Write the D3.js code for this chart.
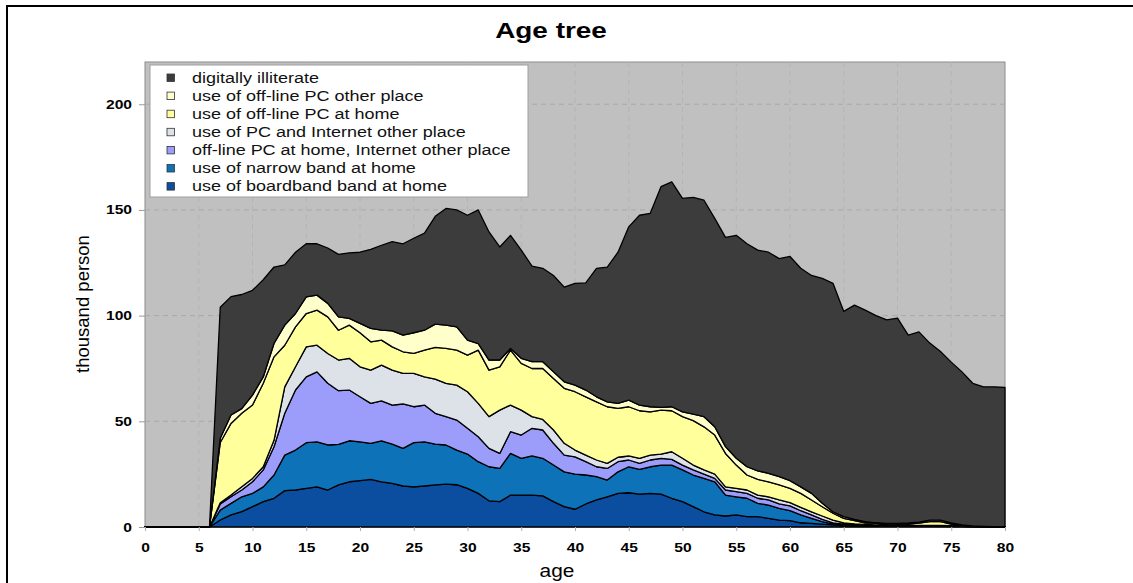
<!DOCTYPE html>
<html lang="en">
<head>
<meta charset="UTF-8">
<title>Age tree</title>
<script src="https://cdn.jsdelivr.net/npm/d3@7"></script>
<style>
  body { margin: 0; background: #fff; }
  svg { display: block; font-family: "Liberation Sans", Arial, sans-serif; }
</style>
</head>
<body>
<div id="chart"></div>
<script>
// ages 0..80, thousand persons per layer (bottom layer first)
var ages = [0,1,2,3,4,5,6,7,8,9,10,11,12,13,14,15,16,17,18,19,20,21,22,23,24,25,26,27,28,29,30,
  31,32,33,34,35,36,37,38,39,40,41,42,43,44,45,46,47,48,49,50,51,52,53,54,55,56,57,58,59,60,
  61,62,63,64,65,66,67,68,69,70,71,72,73,74,75,76,77,78,79,80];

var broadband = [0,0,0,0,0,0,0,
  3.3,5.7,7.3,9.6,12,13.6,17.2,17.5,18.3,19,
  17.5,19.9,21.4,21.9,22.5,21.4,20.6,19.4,19,19.4,
  19.9,20.3,20,18.3,15.9,12.4,12,15.1,15.1,15.1,
  14.7,12,9.6,8.4,10.9,12.8,14.3,15.9,16.2,15.6,
  15.9,15.6,13.6,12,9.6,7.2,5.7,5.2,5.7,4.9,
  4.9,4.1,3.3,3,2,1.7,1.4,1,0.5,0.4,
  0.3,0.3,0.3,0.3,0.3,0.3,0.3,0.3,0.2,0.2,
  0.1,0.1,0.1,0.1];
var narrowband = [0,0,0,0,0,0,0,
  4.7,5.5,7.0,6.3,7,11,16.8,18.9,21.6,21.3,
  21.3,19.2,19.4,18.4,17.1,19.4,18.6,17.8,20.9,20.9,
  19.3,18.5,16.4,16.2,15,16.1,15.7,19.7,17.4,18.5,
  17.8,17.3,16.5,16.6,13.7,11,7.9,10.2,12.3,11.7,
  12.6,13.7,15.7,15,15,15.8,15.7,9.9,8.6,8.7,
  6.3,6.3,5.5,4.7,3.7,2.4,1.1,0.4,0.5,0.3,
  0.2,0.2,0.1,0.1,0.1,0.1,0.1,0.1,0.1,0.1,
  0.1,0,0,0];
var offlineHomeNetOther = [0,0,0,0,0,0,0,
  2.9,3.1,3.2,5.5,8,13.4,19.8,28.4,31.1,33.1,
  29.2,25.4,24,21.3,18.9,18.9,18.5,21,17,17.4,
  14.6,13.4,14.2,12.2,11.8,8.7,7.1,10.3,11,13.1,
  13.4,10.3,7.9,8.2,6.3,4.7,5.5,4.8,3.2,2.8,
  3.2,3.2,2.7,2.3,2.4,2,1.6,2.4,2.4,2.3,
  2.4,2.4,2.1,2.3,2,1.6,1.1,0.6,0.4,0.3,
  0.3,0.2,0.2,0.1,0.1,0.1,0.1,0.1,0.1,0,
  0,0,0,0];
var pcNetOther = [0,0,0,0,0,0,0,
  0.6,0.8,1.5,1.6,1.5,3,12.5,11,14.2,12.6,
  14.1,14.5,15,14.2,15.7,16.9,16.5,14.5,15.8,13.3,
  16.2,15.8,16.5,17.3,15.8,15,20.5,12.6,11.8,5.5,
  5,6.3,5.6,3.2,3.1,3.2,2.4,2.1,1.9,2.4,
  2.3,2,3.6,3.2,2.3,2,2,1.5,1.6,1.6,
  1.5,1.5,1.9,1.5,1.6,1.5,1.6,1.3,0.6,0.5,
  0.4,0.3,0.3,0.3,0.3,0.3,0.3,0.3,0.2,0.1,
  0.1,0.1,0,0];
var offlineHome = [0,0,0,0,0,0,0,
  28.5,33.9,34.8,34.7,39.5,39.5,19.7,18.9,15.8,16.6,
  17.3,14.1,15.7,16.1,13.4,11.8,11,10.2,9.4,12.7,
  15,16.5,16.6,17.3,25.2,22,20.5,26,22.1,22.8,
  24.1,24.4,26,27.6,27.6,27.5,26.8,23.1,23.3,22.5,
  20.5,20.8,19.4,19.7,21,20.4,18.5,15.8,11,7.1,
  7.4,7.1,7.1,6.8,6.6,5.6,4.4,3.2,2.1,1.5,
  0.8,0.7,0.5,0.4,0.6,1,1.7,1.7,0.8,0.3,
  0.1,0,0,0];
var offlineOther = [0,0,0,0,0,0,0,
  2,4,2.2,4.7,3,6.3,9.5,6.3,7.9,7.1,
  6.4,6.3,3.2,4.4,6.4,4.7,7.6,7.9,9.8,9.4,
  11,11,11,7.1,3.1,4.8,3.2,0.8,2.4,3.2,
  3.2,3.1,3.1,3.1,3.2,2.4,2.3,2.4,3.1,2.7,
  2.4,1.3,1.9,2.3,3.1,4.8,3.9,3.2,3.2,3.9,
  4.1,4,3.9,3.6,3.1,3.1,1.6,0.7,0.8,0.6,
  0.5,0.3,0.3,0.5,0.5,0.5,0.8,0.8,0.6,0.3,
  0.1,0.1,0.1,0.1];
var illiterate = [0,0,0,0,0,0,0,
  62,56,54,49.6,46,36.2,28.5,29,25.1,24.3,
  26.2,29.6,31,33.7,37.4,40.2,42.2,43.2,44.7,45.9,
  51,55.2,55.3,59.1,63.2,60.6,53.5,53.5,51.2,45.2,
  44.2,45.6,44.8,48.2,50.7,60.8,63.8,71.5,82,89.8,
  91.5,104.4,106.4,101,102.6,102.4,98.6,99,105.5,105.5,
  104.4,104.6,103.2,106.1,103.4,103.1,106.4,108.1,97.1,101.4,
  100.1,98,96.3,97.1,88.9,90,83.7,79.7,76,72.4,
  67.5,66,66.1,65.8];

var seriesKeys = ["broadband", "narrowband", "offlineHomeNetOther", "pcNetOther", "offlineHome", "offlineOther", "illiterate"];
var seriesLabels = {
  broadband: "use of boardband band at home",
  narrowband: "use of narrow band at home",
  offlineHomeNetOther: "off-line PC at home, Internet other place",
  pcNetOther: "use of PC and Internet other place",
  offlineHome: "use of off-line PC at home",
  offlineOther: "use of off-line PC other place",
  illiterate: "digitally illiterate"
};
var seriesColors = {
  broadband: "#0b4d9f",
  narrowband: "#0d72b8",
  offlineHomeNetOther: "#9c9cfb",
  pcNetOther: "#dde2e8",
  offlineHome: "#ffff9c",
  offlineOther: "#ffffcc",
  illiterate: "#3c3c3c"
};
var legendOrder = ["illiterate", "offlineOther", "offlineHome", "pcNetOther", "offlineHomeNetOther", "narrowband", "broadband"];
var xTicks = [0,5,10,15,20,25,30,35,40,45,50,55,60,65,70,75,80];
var yTicks = [0,50,100,150,200];

var WIDTH = 1133, HEIGHT = 583;
var PLOT_L = 145, PLOT_R = 1005, PLOT_T = 62, PLOT_B = 527;

var table = ages.map(function (a, i) {
  return {
    age: a,
    broadband: broadband[i], narrowband: narrowband[i],
    offlineHomeNetOther: offlineHomeNetOther[i], pcNetOther: pcNetOther[i],
    offlineHome: offlineHome[i], offlineOther: offlineOther[i], illiterate: illiterate[i]
  };
});

var x = d3.scaleLinear().domain([0, 80]).range([PLOT_L, PLOT_R]);
var y = d3.scaleLinear().domain([0, 220]).range([PLOT_B, PLOT_T]);

var svg = d3.select("#chart").append("svg")
  .attr("width", WIDTH)
  .attr("height", HEIGHT);

// outer frame (left + top)
svg.append("path")
  .attr("d", "M7,583 L7,6 L1133,6")
  .attr("fill", "none")
  .attr("stroke", "#000")
  .attr("stroke-width", 2);

// title
svg.append("text")
  .attr("transform", "translate(551,38) scale(1.27,1)")
  .attr("text-anchor", "middle")
  .attr("font-size", 22)
  .attr("font-weight", "bold")
  .text("Age tree");

// plot background
svg.append("rect")
  .attr("x", PLOT_L).attr("y", PLOT_T)
  .attr("width", PLOT_R - PLOT_L).attr("height", PLOT_B - PLOT_T)
  .attr("fill", "#c0c0c0")
  .attr("stroke", "#8c8c8c")
  .attr("stroke-width", 1);

// grid
var grid = svg.append("g").attr("stroke", "#a9a9a9").attr("stroke-dasharray", "5,4");
grid.selectAll("line.h").data(yTicks.filter(function (d) { return d > 0; }))
  .enter().append("line")
  .attr("x1", PLOT_L).attr("x2", PLOT_R)
  .attr("y1", function (d) { return y(d); }).attr("y2", function (d) { return y(d); });
grid.selectAll("line.v").data(xTicks.filter(function (d) { return d > 0 && d < 80; }))
  .enter().append("line")
  .attr("y1", PLOT_T).attr("y2", PLOT_B)
  .attr("x1", function (d) { return x(d); }).attr("x2", function (d) { return x(d); })
  .attr("stroke", "#b4b4b4");

// stacked areas
var stack = d3.stack().keys(seriesKeys);
var layers = stack(table);

var area = d3.area()
  .x(function (d) { return x(d.data.age); })
  .y0(function (d) { return y(d[0]); })
  .y1(function (d) { return y(d[1]); });

svg.append("g").selectAll("path")
  .data(layers).enter().append("path")
  .attr("d", area)
  .attr("fill", function (d) { return seriesColors[d.key]; })
  .attr("stroke", "#000")
  .attr("stroke-width", 1.3)
  .attr("stroke-linejoin", "round");

// axes
var TX = 1.25;
var yAxis = svg.append("g")
  .attr("transform", "translate(" + PLOT_L + ",0)")
  .call(d3.axisLeft(y).tickValues(yTicks).tickSize(6).tickPadding(7));
yAxis.select(".domain").remove();
yAxis.selectAll("line").attr("stroke", "#9a9a9a");
yAxis.selectAll("text")
  .attr("font-size", 12.5).attr("font-weight", "bold")
  .attr("font-family", "Liberation Sans, Arial, sans-serif")
  .attr("fill", "#000")
  .attr("x", -13 / TX)
  .attr("transform", "scale(" + TX + ",1)");

var xAxis = svg.append("g")
  .attr("transform", "translate(0," + PLOT_B + ")")
  .call(d3.axisBottom(x).tickValues(xTicks).tickSize(4).tickPadding(12));
xAxis.select(".domain").remove();
xAxis.selectAll("line").attr("stroke", "#b0b0b0");
xAxis.selectAll("text")
  .attr("font-size", 12.5).attr("font-weight", "bold")
  .attr("font-family", "Liberation Sans, Arial, sans-serif")
  .attr("fill", "#000")
  .attr("x", 0)
  .attr("transform", "scale(" + TX + ",1)");

// axis titles
svg.append("text")
  .attr("transform", "translate(557,577) scale(1.13,1)")
  .attr("text-anchor", "middle")
  .attr("font-size", 18.5)
  .text("age");

svg.append("text")
  .attr("transform", "translate(89,304) rotate(-90)")
  .attr("text-anchor", "middle")
  .attr("font-size", 18.5)
  .text("thousand person");

// legend
var legend = svg.append("g");
legend.append("rect")
  .attr("x", 150).attr("y", 65)
  .attr("width", 378).attr("height", 132)
  .attr("fill", "#fff")
  .attr("stroke", "#a0a0a0")
  .attr("stroke-width", 1);

var rows = legend.selectAll("g.row").data(legendOrder).enter().append("g")
  .attr("transform", function (d, i) { return "translate(0," + (77.5 + i * 18.1) + ")"; });
rows.append("rect")
  .attr("x", 167).attr("y", -3.5)
  .attr("width", 7.5).attr("height", 7.5)
  .attr("fill", function (d) { return seriesColors[d]; })
  .attr("stroke", "#333")
  .attr("stroke-width", 0.8);
rows.append("text")
  .attr("transform", "translate(192,5) scale(1.2,1)")
  .attr("font-size", 15)
  .attr("fill", "#111")
  .text(function (d) { return seriesLabels[d]; });
</script>
</body>
</html>
